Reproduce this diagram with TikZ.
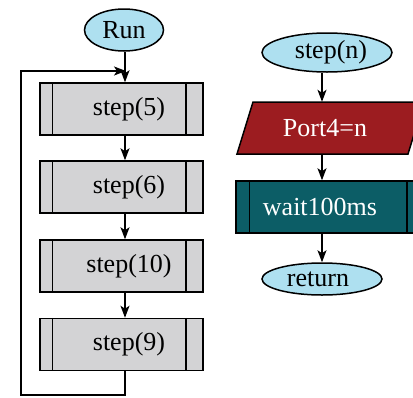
\documentclass[tikz,border=0pt]{standalone}
\usepackage{fontspec}
\setmainfont{Liberation Serif}
\usetikzlibrary{shapes.geometric,arrows.meta}
\definecolor{skyb}{HTML}{AEE0F0}
\definecolor{greyb}{HTML}{D3D3D5}
\definecolor{redb}{HTML}{9C1C20}
\definecolor{tealb}{HTML}{0C5D66}
\tikzset{
  oval/.style={ellipse,draw=black,line width=1.5pt,fill=skyb,inner sep=0pt},
  procbox/.style={rectangle,draw=black,line width=1.5pt,fill=greyb,minimum width=163pt,minimum height=52pt,inner sep=0pt},
  lbl/.style={inner sep=0pt,font=\fontsize{26}{30}\selectfont},
  arr/.style={line width=1.5pt,-{Stealth[length=12pt,width=9pt,inset=3pt]}},
  ln/.style={line width=1.5pt},
}
\begin{document}
\begin{tikzpicture}[x=1pt,y=-1pt]
\useasboundingbox (0,0) rectangle (413,397);
\clip (0,0) rectangle (413,397);
% left column
\coordinate (colL) at (125,0);
\node[oval,minimum width=79pt,minimum height=42pt,lbl] (run) at (124,30) {Run};
\node[procbox] (b5) at (121.5,109) {};
\node[procbox] (b6) at (121.5,187) {};
\node[procbox] (b10) at (121.5,266) {};
\node[procbox] (b9) at (121.5,344.5) {};
\foreach \b in {b5,b6,b10,b9}{
  \draw[ln] (\b.north west) ++(13,0) -- ++(0,52);
  \draw[ln] (\b.north east) ++(-18,0) -- ++(0,52);
}
\node[lbl] (t5) at (129,109) {step(5)};
\node[lbl] (t6) at (129,187) {step(6)};
\node[lbl] (t10) at (129,266) {step(10)};
\node[lbl] (t9) at (129,344.5) {step(9)};
\draw[arr] (run.south -| colL) -- (b5.north -| colL);
\draw[arr] (b5.south -| colL) -- (b6.north -| colL);
\draw[arr] (b6.south -| colL) -- (b10.north -| colL);
\draw[arr] (b10.south -| colL) -- (b9.north -| colL);
\coordinate (loopbl) at (21,395);
\coordinate (looptl) at (21,71);
\coordinate (loopend) at (126,71);
\draw[arr] (b9.south -| colL) |- (loopbl) -- (looptl) -- (loopend);
% right column
\coordinate (colR) at (322,0);
\node[oval,minimum width=130pt,minimum height=39pt] (stepn) at (327,52.5) {};
\node[lbl] (tn) at (331,52.5) {step(n)};
\fill[redb,draw=black,line width=1.5pt] (237,154) -- (253,102) -- (424,102) -- (408,154) -- cycle;
\node[lbl,minimum height=52pt,text=white] (port) at (325,128) {Port4=n};
\node[rectangle,draw=black,line width=1.5pt,fill=tealb,minimum width=184pt,minimum height=52pt,inner sep=0pt] (wait) at (328,207) {};
\draw[ln] (wait.north west) ++(14,0) -- ++(0,52);
\draw[ln] (wait.north east) ++(-14,0) -- ++(0,52);
\node[lbl,text=white] (tw) at (320,207) {wait100ms};
\node[oval,minimum width=120pt,minimum height=32pt] (ret) at (322,279) {};
\node[lbl] (tr) at (318,279) {return};
\draw[arr] (stepn.south -| colR) -- (port.north -| colR);
\draw[arr] (port.south -| colR) -- (wait.north -| colR);
\draw[arr] (wait.south -| colR) -- (ret.north -| colR);
\end{tikzpicture}
\end{document}
